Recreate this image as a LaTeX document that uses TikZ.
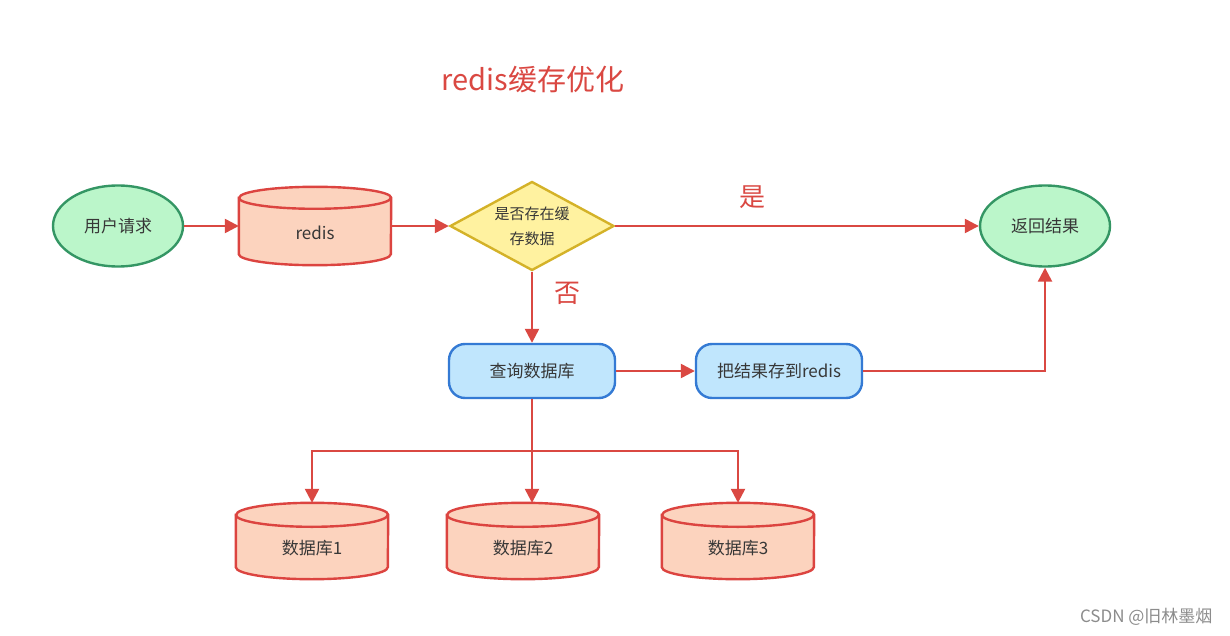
\documentclass[tikz,border=0pt]{standalone}
\usepackage{fontspec}
\setmainfont{Noto Sans CJK SC}
\usetikzlibrary{shapes.geometric,arrows.meta,calc}
\definecolor{arrowred}{RGB}{218,72,66}
\definecolor{greenfill}{RGB}{187,246,202}
\definecolor{greenline}{RGB}{52,150,100}
\definecolor{peach}{RGB}{252,211,190}
\definecolor{peachline}{RGB}{220,68,64}
\definecolor{yellowfill}{RGB}{255,242,160}
\definecolor{yellowline}{RGB}{212,178,40}
\definecolor{bluefill}{RGB}{192,230,253}
\definecolor{blueline}{RGB}{52,122,212}
\definecolor{txt}{RGB}{55,55,55}
\tikzset{
  conn/.style={draw=arrowred, line width=2.4pt, -{Triangle[length=14pt,width=14pt]}},
  ovalnode/.style={ellipse, draw=greenline, fill=greenfill, line width=2.4pt, minimum width=130pt, minimum height=81pt, inner sep=0pt, font=\fontsize{17}{20}\selectfont, text=txt},
  boxnode/.style={rectangle, rounded corners=16pt, draw=blueline, fill=bluefill, line width=2.4pt, minimum width=166pt, minimum height=54pt, inner sep=0pt, font=\fontsize{17}{20}\selectfont, text=txt},
  decnode/.style={diamond, draw=yellowline, fill=yellowfill, line width=2.4pt, minimum width=164pt, minimum height=89pt, aspect=1.84, inner sep=0pt, align=center, font=\fontsize{15}{25}\selectfont, text=txt},
  dbnode/.style={rectangle, minimum width=152pt, minimum height=76pt, inner sep=0pt, font=\fontsize{17}{20}\selectfont, text=txt},
  cylbody/.style={draw=peachline, fill=peach, line width=2.4pt},
  lbl/.style={text=arrowred, font=\fontsize{26}{30}\selectfont},
}
\newcommand\drawcyl[3]{% name, half width, cap radius
  \path[cylbody] ([yshift=-#3]#1.north west) -- ([yshift=#3]#1.south west)
    arc[start angle=180,end angle=360,x radius=#2,y radius=#3]
    -- ([yshift=-#3]#1.north east)
    arc[start angle=0,end angle=180,x radius=#2,y radius=#3] -- cycle;
  \draw[draw=peachline, line width=2.4pt] ([yshift=-#3]#1.north west)
    arc[start angle=180,end angle=360,x radius=#2,y radius=#3];
}
\begin{document}
\begin{tikzpicture}[x=1pt,y=1pt]
\useasboundingbox (0,0) rectangle (1230,-636);
\fill[white] (0,0) rectangle (1230,-636);

\node[text=arrowred, font=\fontsize{29}{32}\selectfont] (title) at (533,-80) {redis缓存优化};

\node[ovalnode] (user) at (118,-226) {用户请求};
\node[dbnode, minimum height=78pt] (redis) at (315,-226) {};
\drawcyl{redis}{76pt}{11pt}
\node[font=\fontsize{17}{20}\selectfont, text=txt] (redistxt) at (315,-233) {redis};
\node[decnode] (dec) at (532,-226) {是否存在缓\\存数据};
\node[ovalnode] (ret) at (1045,-226) {返回结果};

\node[boxnode] (query) at (532,-371) {查询数据库};
\node[boxnode] (save) at (779,-371) {把结果存到redis};

\node[dbnode] (db1) at (312,-541) {};
\node[dbnode] (db2) at (523,-541) {};
\node[dbnode] (db3) at (738,-541) {};
\drawcyl{db1}{76pt}{12pt}
\drawcyl{db2}{76pt}{12pt}
\drawcyl{db3}{76pt}{12pt}
\node[font=\fontsize{17}{20}\selectfont, text=txt] (db1t) at (312,-548) {数据库1};
\node[font=\fontsize{17}{20}\selectfont, text=txt] (db2t) at (523,-548) {数据库2};
\node[font=\fontsize{17}{20}\selectfont, text=txt] (db3t) at (738,-548) {数据库3};

\node[lbl] (yes) at (752,-197) {是};
\node[lbl] (no) at (567,-293) {否};

\draw[conn] (user.east) -- (redis.west);
\draw[conn] (redis.east) -- (dec.west);
\draw[conn] (dec.east) -- (ret.west);
\draw[conn] (dec.south) -- (query.north);
\draw[conn] (query.east) -- (save.west);
\draw[conn] (save.east) -| (ret.south);
\coordinate (bus) at ($(query.south)+(0,-52)$);
\draw[conn] (query.south) -- (query.south |- db2.north);
\draw[conn] (bus) -| (db1.north);
\draw[conn] (bus) -| (db3.north);

\node[text={rgb,255:red,140;green,140;blue,140}, font=\fontsize{17}{20}\selectfont, anchor=east] (wm) at (1216,-617) {CSDN @旧林墨烟};
\end{tikzpicture}
\end{document}
